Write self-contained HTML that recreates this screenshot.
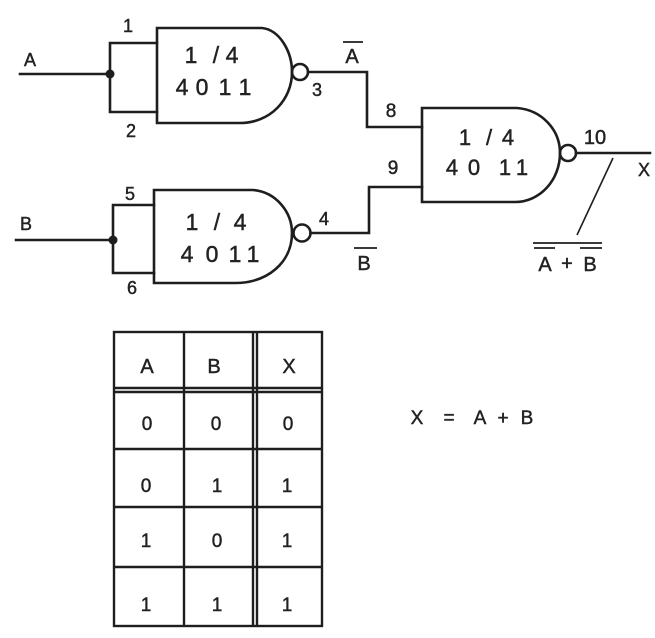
<!DOCTYPE html>
<html>
<head>
<meta charset="utf-8">
<style>
  html,body{margin:0;padding:0;background:#ffffff;}
  svg{display:block;}
  text{font-family:"Liberation Sans", sans-serif; fill:#222; stroke:#222; stroke-width:0.45px;}
</style>
</head>
<body>
<svg width="655" height="638" viewBox="0 0 655 638" xmlns="http://www.w3.org/2000/svg">
  <g fill="none" stroke="#1e1e1e" stroke-width="2.6" stroke-linejoin="miter" stroke-linecap="square">
    <!-- Gate 1 -->
    <path d="M157,28 L262,28 C280,30 292,52 292,72 C292,100 270,123 240,123 L157,123 Z"/>
    <circle cx="300" cy="72" r="8"/>
    <path d="M20,74 L110,74"/>
    <path d="M157,43 L110,43 L110,112 L157,112"/>
    <!-- Gate 2 -->
    <path d="M154,190 L253,190 C276,192 292,212 292,233 C292,262 268,283 235,283 L154,283 Z"/>
    <circle cx="302" cy="233" r="8.5"/>
    <path d="M16,240 L113,240"/>
    <path d="M154,205 L113,205 L113,273 L154,273"/>
    <!-- Gate 3 -->
    <path d="M422,108 L517,108 C542,110 560,130 560,153 C560,180 540,202 515,202 L422,202 Z"/>
    <circle cx="568" cy="153" r="8"/>
    <path d="M576,153 L650,153"/>
    <!-- interconnects -->
    <path d="M308,72 L367,72 L367,127 L422,127"/>
    <path d="M310.5,233 L369,233 L369,187 L422,187"/>
  </g>
  <!-- junction dots -->
  <circle cx="110" cy="74" r="4.5" fill="#1e1e1e"/>
  <circle cx="113" cy="240" r="4.5" fill="#1e1e1e"/>
  <!-- diagonal pointer -->
  <line x1="613" y1="158" x2="577" y2="235" stroke="#1e1e1e" stroke-width="1.6"/>

  <!-- Gate labels -->
  <text font-size="23" text-anchor="middle" x="191 216 232" y="63">1/4</text>
  <text font-size="23" text-anchor="middle" x="182 202 225 245" y="95">4011</text>
  <text font-size="23" text-anchor="middle" x="192 217 240" y="230">1/4</text>
  <text font-size="23" text-anchor="middle" x="187 212 235 253" y="262">4011</text>
  <text font-size="22" text-anchor="middle" x="465 489 508" y="145">1/4</text>
  <text font-size="22" text-anchor="middle" x="452 474 505 522" y="175">4011</text>

  <!-- pin numbers & signals -->
  <g font-size="18" text-anchor="middle">
    <text x="30" y="66">A</text>
    <text x="128" y="32">1</text>
    <text x="131" y="137">2</text>
    <text x="317" y="96">3</text>
    <text x="26" y="230">B</text>
    <text x="130" y="200">5</text>
    <text x="132" y="294">6</text>
    <text x="324" y="225">4</text>
    <text x="391" y="117" font-size="19">8</text>
    <text x="393" y="174" font-size="19">9</text>
    <text x="595" y="144" font-size="20">10</text>
    <text x="644" y="176">X</text>
    <text x="352" y="63" font-size="20">A</text>
    <text x="364" y="270" font-size="20">B</text>
    <text x="545" y="271" font-size="20">A</text>
    <text x="567" y="270" font-size="20">+</text>
    <text x="590" y="271" font-size="20">B</text>
  </g>
  <g stroke="#1e1e1e" stroke-width="1.8">
    <line x1="343" y1="42" x2="363" y2="42"/>
    <line x1="354" y1="248" x2="377" y2="248"/>
    <line x1="533" y1="243" x2="602" y2="243"/>
    <line x1="534" y1="248" x2="555" y2="248"/>
    <line x1="580" y1="248" x2="602" y2="248"/>
  </g>

  <!-- Truth table -->
  <g fill="none" stroke="#1e1e1e" stroke-width="2.4">
    <rect x="114" y="332" width="208" height="294"/>
    <line x1="114" y1="388" x2="322" y2="388"/>
    <line x1="114" y1="392" x2="322" y2="392"/>
    <line x1="114" y1="449" x2="322" y2="449"/>
    <line x1="114" y1="507" x2="322" y2="507"/>
    <line x1="114" y1="567" x2="322" y2="567"/>
    <line x1="184" y1="332" x2="184" y2="626"/>
    <line x1="253" y1="332" x2="253" y2="626"/>
    <line x1="257" y1="332" x2="257" y2="626"/>
  </g>
  <g font-size="20" text-anchor="middle">
    <text x="147" y="373">A</text>
    <text x="214" y="373">B</text>
    <text x="289" y="373">X</text>
  </g>
  <g font-size="19" text-anchor="middle">
    <text x="147" y="430">0</text>
    <text x="216" y="430">0</text>
    <text x="288" y="430">0</text>
    <text x="146" y="492">0</text>
    <text x="217" y="492">1</text>
    <text x="287" y="492">1</text>
    <text x="146" y="547">1</text>
    <text x="217" y="547">0</text>
    <text x="287" y="547">1</text>
    <text x="146" y="611">1</text>
    <text x="217" y="611">1</text>
    <text x="287" y="611">1</text>
  </g>

  <!-- Equation -->
  <text font-size="19" text-anchor="middle" x="417 449 480 503 527" y="424">X=A+B</text>
</svg>
</body>
</html>
